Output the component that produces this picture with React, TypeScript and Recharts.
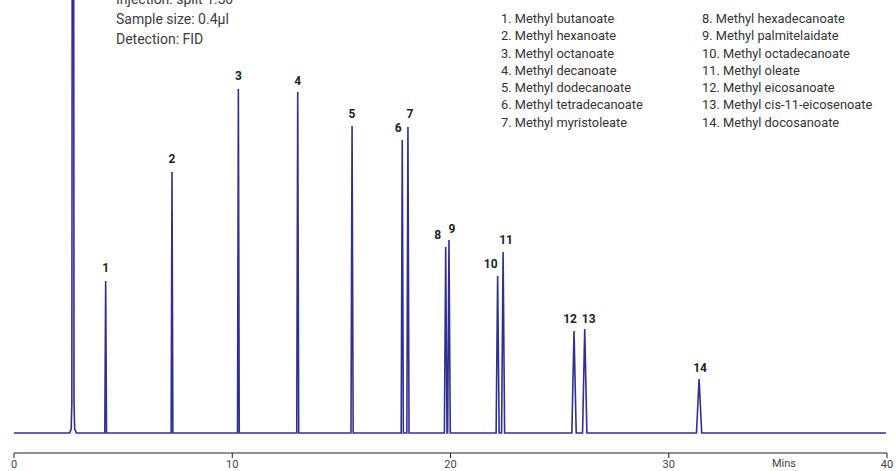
import { ComposedChart, Line, Scatter, XAxis, YAxis } from "recharts";

// retention times (min) and peak heights (arbitrary units)
const peakLabels = ["1", "2", "3", "4", "5", "6", "7", "8", "9", "10", "11", "12", "13", "14"];
const retentionTimes = [4.2, 7.24, 10.28, 13.0, 15.49, 17.79, 18.05, 19.78, 19.93, 22.16, 22.41, 25.66, 26.15, 31.39];
const peakHeights = [152, 261, 344, 341, 307, 293, 306, 186, 193, 157, 181, 102, 104, 54];
const peakHalfWidths = [0.04, 0.04, 0.04, 0.045, 0.05, 0.05, 0.05, 0.06, 0.06, 0.07, 0.07, 0.1, 0.1, 0.12];
const labelOffsets = [
  [0, -13], [0, -13], [0, -13], [0, -11], [0, -12], [-4, -12], [2, -13],
  [-8, -12], [3, -11], [-7, -12], [3, -12], [-4, -12], [4, -10], [1, -11],
];

// solvent front, runs off the top of the plot
const solventTimes = [2.55, 2.62, 2.65, 2.7, 2.75, 2.78, 2.86];
const solventValues = [0, 4, 30, 1400, 30, 4, 0];

const xTicks = [0, 10, 20, 30, 40];

const conditions = ["Injection: split 1:50", "Sample size: 0.4µl", "Detection: FID"];
const compoundsLeft = [
  "1. Methyl butanoate",
  "2. Methyl hexanoate",
  "3. Methyl octanoate",
  "4. Methyl decanoate",
  "5. Methyl dodecanoate",
  "6. Methyl tetradecanoate",
  "7. Methyl myristoleate",
];
const compoundsRight = [
  "8. Methyl hexadecanoate",
  "9. Methyl palmitelaidate",
  "10. Methyl octadecanoate",
  "11. Methyl oleate",
  "12. Methyl eicosanoate",
  "13. Methyl cis-11-eicosenoate",
  "14. Methyl docosanoate",
];

const FONT = '"Roboto", "Liberation Sans", sans-serif';

const trace: { t: number; v: number }[] = [{ t: 0, v: 0 }];
solventTimes.forEach((t, i) => trace.push({ t, v: solventValues[i] }));
retentionTimes.forEach((t, i) => {
  const w = peakHalfWidths[i];
  trace.push({ t: t - w, v: 0 }, { t, v: peakHeights[i] }, { t: t + w, v: 0 });
});
trace.push({ t: 39.95, v: 0 });
trace.sort((a, b) => a.t - b.t);

const apexes = retentionTimes.map((t, i) => ({
  t,
  v: peakHeights[i],
  label: peakLabels[i],
  dx: labelOffsets[i][0],
  dy: labelOffsets[i][1],
}));

function PeakLabel(props: any) {
  const { cx, cy, payload } = props;
  return (
    <text
      x={cx + payload.dx}
      y={cy + payload.dy}
      textAnchor="middle"
      dominantBaseline="central"
      fontFamily={FONT}
      fontSize={12}
      fontWeight="bold"
      fill="#222"
    >
      {payload.label}
    </text>
  );
}

const textBlock = (lines: string[], left: number, top: number, size: number, lh: number, color: string, sx = 1) => (
  <div
    style={{
      position: "absolute",
      left,
      top,
      fontFamily: FONT,
      fontSize: size,
      lineHeight: `${lh}px`,
      color,
      whiteSpace: "nowrap",
      transform: `scaleX(${sx})`,
      transformOrigin: "left top",
    }}
  >
    {lines.map((l) => (
      <div key={l}>{l}</div>
    ))}
  </div>
);

export default function App() {
  return (
    <div style={{ position: "absolute", left: 0, top: 0, width: 896, height: 471, overflow: "hidden", background: "#fff" }}>
      <ComposedChart width={896} height={471} data={trace} margin={{ top: 0, right: 9, bottom: 0, left: 14 }}>
        <XAxis
          dataKey="t"
          type="number"
          domain={[0, 40]}
          ticks={xTicks}
          interval={0}
          height={18}
          tickSize={5}
          axisLine={{ stroke: "#222" }}
          tickLine={{ stroke: "#222" }}
          tick={{ fill: "#444", fontSize: 11, fontFamily: FONT }}
        />
        <YAxis hide type="number" dataKey="v" domain={[-20, 433]} allowDataOverflow />
        <Line
          dataKey="v"
          type="linear"
          stroke="#2e3192"
          strokeWidth={1.6}
          dot={false}
          activeDot={false}
          isAnimationActive={false}
        />
        <Scatter data={apexes} dataKey="v" shape={<PeakLabel />} isAnimationActive={false} />
      </ComposedChart>
      {textBlock(conditions, 116, -11, 14, 20, "#3c3c3c")}
      {textBlock(compoundsLeft, 501, 10, 13.5, 17.3, "#333", 0.95)}
      {textBlock(compoundsRight, 702, 10, 13.5, 17.3, "#333", 0.95)}
      <div style={{ position: "absolute", left: 772, top: 457, fontFamily: FONT, fontSize: 11, color: "#444" }}>Mins</div>
    </div>
  );
}
